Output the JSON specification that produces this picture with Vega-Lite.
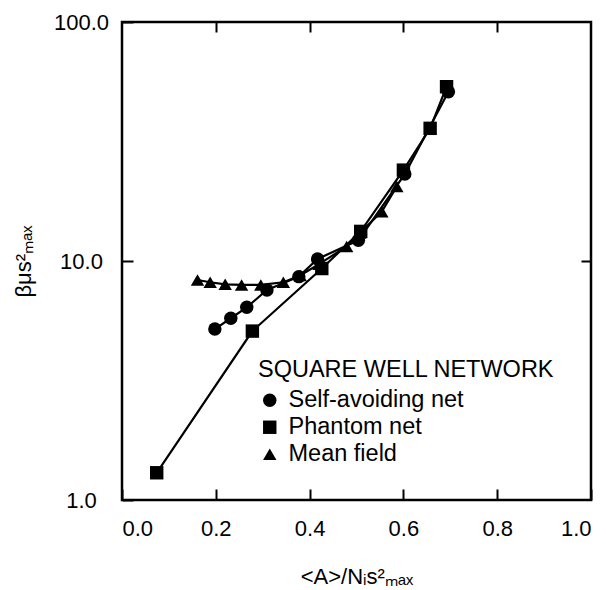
{
  "$schema": "https://vega.github.io/schema/vega-lite/v6.json",
  "width": 469,
  "height": 478,
  "autosize": "none",
  "padding": {"left": 122, "top": 22, "right": 15, "bottom": 90},
  "background": "white",
  "config": {
    "font": "Liberation Sans",
    "view": {"stroke": "black", "strokeWidth": 2.5},
    "axis": {"domain": false, "grid": false, "labelColor": "black", "titleColor": "black", "tickColor": "black", "labelFont": "Liberation Sans", "titleFont": "Liberation Sans", "labelFontSize": 22, "titleFontSize": 22, "titleFontWeight": "normal", "tickWidth": 2}
  },
  "data": {
    "values": [
      {"series": "Self-avoiding net", "x": 0.198, "y": 5.19},
      {"series": "Self-avoiding net", "x": 0.232, "y": 5.76},
      {"series": "Self-avoiding net", "x": 0.266, "y": 6.40},
      {"series": "Self-avoiding net", "x": 0.309, "y": 7.56},
      {"series": "Self-avoiding net", "x": 0.377, "y": 8.60},
      {"series": "Self-avoiding net", "x": 0.417, "y": 10.2},
      {"series": "Self-avoiding net", "x": 0.504, "y": 12.2},
      {"series": "Self-avoiding net", "x": 0.603, "y": 23.1},
      {"series": "Self-avoiding net", "x": 0.696, "y": 51.1},
      {"series": "Phantom net", "x": 0.074, "y": 1.30},
      {"series": "Phantom net", "x": 0.278, "y": 5.09},
      {"series": "Phantom net", "x": 0.426, "y": 9.3},
      {"series": "Phantom net", "x": 0.509, "y": 13.3},
      {"series": "Phantom net", "x": 0.600, "y": 24.0},
      {"series": "Phantom net", "x": 0.657, "y": 35.9},
      {"series": "Phantom net", "x": 0.692, "y": 53.6},
      {"series": "Mean field", "x": 0.161, "y": 8.33},
      {"series": "Mean field", "x": 0.188, "y": 8.15},
      {"series": "Mean field", "x": 0.220, "y": 7.99},
      {"series": "Mean field", "x": 0.255, "y": 7.94},
      {"series": "Mean field", "x": 0.296, "y": 7.94},
      {"series": "Mean field", "x": 0.344, "y": 8.15},
      {"series": "Mean field", "x": 0.380, "y": 8.7},
      {"series": "Mean field", "x": 0.420, "y": 9.7},
      {"series": "Mean field", "x": 0.479, "y": 11.5},
      {"series": "Mean field", "x": 0.507, "y": 13.1},
      {"series": "Mean field", "x": 0.554, "y": 16.1},
      {"series": "Mean field", "x": 0.586, "y": 20.5}
    ]
  },
  "layer": [
    {
      "mark": {"type": "line", "color": "black", "strokeWidth": 2.2},
      "encoding": {
        "x": {"field": "x", "type": "quantitative", "scale": {"domain": [0, 1], "nice": false, "zero": false},
              "axis": {"orient": "bottom", "values": [0, 0.2, 0.4, 0.6, 0.8, 1.0], "format": ".1f", "tickSize": -11, "labelPadding": 29, "title": "<A>/Nᵢs²ₘₐₓ", "titlePadding": 27}},
        "y": {"field": "y", "type": "quantitative", "scale": {"type": "log", "domain": [1, 100], "nice": false},
              "axis": {"orient": "left", "values": [1, 10, 100], "format": ".1f", "tickSize": -11, "labelPadding": 52, "labelAlign": "center", "title": "βμs²ₘₐₓ", "titlePadding": 18}},
        "detail": {"field": "series"}
      }
    },
    {
      "mark": {"type": "point", "filled": true, "color": "black", "opacity": 1},
      "encoding": {
        "x": {"field": "x", "type": "quantitative",
              "axis": {"orient": "top", "values": [0.2, 0.4, 0.6, 0.8], "labels": false, "tickSize": -10, "title": null}},
        "y": {"field": "y", "type": "quantitative",
              "axis": {"orient": "right", "values": [10], "labels": false, "tickSize": -10, "title": null}},
        "shape": {"field": "series", "type": "nominal",
                  "scale": {"domain": ["Self-avoiding net", "Phantom net", "Mean field"], "range": ["circle", "square", "triangle-up"]},
                  "legend": {"title": "SQUARE WELL NETWORK", "orient": "none", "legendX": 136, "legendY": 336,
                             "titleFontSize": 23.5, "titleFontWeight": "normal", "titleColor": "black", "titlePadding": 7, "titleLimit": 500, "labelLimit": 400,
                             "labelFontSize": 23.5, "labelColor": "black", "labelOffset": 7, "rowPadding": 2,
                             "symbolFillColor": "black", "symbolStrokeColor": "black"}},
        "size": {"field": "series", "type": "nominal",
                 "scale": {"domain": ["Self-avoiding net", "Phantom net", "Mean field"], "range": [180, 180, 100]},
                 "legend": {"title": "SQUARE WELL NETWORK", "orient": "none", "legendX": 136, "legendY": 336}}
      }
    }
  ],
  "resolve": {"axis": {"x": "independent", "y": "independent"}}
}
